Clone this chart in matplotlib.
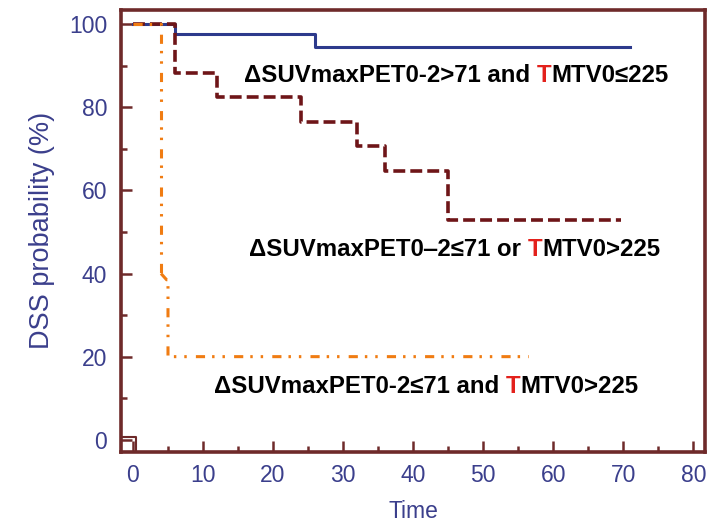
import matplotlib
matplotlib.use("Agg")
import matplotlib.pyplot as plt
from matplotlib.ticker import MultipleLocator

plt.rcParams['font.family'] = ['Liberation Sans', 'DejaVu Sans']

# Kaplan-Meier step curves (time, DSS probability %)
good_time = [0, 6, 26, 71]
good_surv = [100, 97.6, 94.6, 94.6]

mixed_time = [0, 6, 12, 24, 32, 36, 45, 69.7]
mixed_surv = [100, 88.2, 82.4, 76.5, 70.6, 64.7, 52.9, 52.9]

poor_time = [0, 4, 4.8, 5, 56.5]
poor_surv = [100, 40, 38.5, 20, 20]

label_good = ["\u0394SUVmaxPET0-2>71 and ", "T", "MTV0\u2264225"]
label_mixed = ["\u0394SUVmaxPET0\u20122\u226471 or ", "T", "MTV0>225"]
label_poor = ["\u0394SUVmaxPET0-2\u226471 and ", "T", "MTV0>225"]

x_ticks = [0, 10, 20, 30, 40, 50, 60, 70, 80]
y_ticks = [0, 20, 40, 60, 80, 100]

spine_col = "#6e2a2a"
tick_col = "#3b3f8c"
orange = "#f07c12"
orange_dash = (3, 2.3, 0.8, 2.6, 0.8, 3)

fig = plt.figure(figsize=(7.08, 5.26), dpi=100)
ax = fig.add_axes([0.171, 0.141, 0.825, 0.840])

ax.step(good_time, good_surv, where="post", color="#2d3a8c", lw=2.2)
ax.step(mixed_time, mixed_surv, where="post", color="#6e1518", lw=2.6,
        dashes=(3.3, 1.4))
ax.plot([poor_time[0], poor_time[1], poor_time[1]],
        [poor_surv[0], poor_surv[0], poor_surv[1]],
        color=orange, lw=2.2, dashes=orange_dash)
ax.plot([poor_time[1], poor_time[2], poor_time[3], poor_time[3], poor_time[4]],
        [poor_surv[1], poor_surv[2], poor_surv[2], poor_surv[3], poor_surv[4]],
        color=orange, lw=2.2, dashes=orange_dash)

# small censoring bracket at the origin
ax.plot([-1.7, 0.4, 0.4], [0.6, 0.6, -2.9], color=spine_col, lw=1.5)

ax.set_xlim(-1.7, 81.7)
ax.set_ylim(-2.9, 103.4)
ax.set_xticks(x_ticks)
ax.set_yticks(y_ticks)
ax.xaxis.set_minor_locator(MultipleLocator(5))
ax.yaxis.set_minor_locator(MultipleLocator(10))
ax.tick_params(which="both", direction="in", color=spine_col, width=1.8,
               top=False, right=False)
ax.tick_params(which="major", length=8, labelsize=16.5, labelcolor=tick_col)
ax.tick_params(which="minor", length=4)
ax.tick_params(axis="x", pad=9)
ax.tick_params(axis="y", pad=10)
for s in ax.spines.values():
    s.set_color(spine_col)
    s.set_linewidth(2.6)

ax.set_xlabel("Time", fontsize=16.5, color=tick_col, labelpad=9)
ax.set_ylabel("DSS probability (%)", fontsize=19.5, color=tick_col, labelpad=10)


def colored_label(x, y, parts):
    t = ax.text(x, y, parts[0], fontsize=17.3, fontweight="bold", color="black",
                ha="left", va="bottom")
    prev = t
    for part, col in zip(parts[1:], ["#e3211c", "black"]):
        prev = ax.annotate(part, xy=(1, 0), xycoords=prev, fontsize=17.3,
                           fontweight="bold", color=col, ha="left", va="bottom")


colored_label(15.9, 84.8, label_good)
colored_label(16.6, 43.1, label_mixed)
colored_label(11.6, 10.1, label_poor)

fig.savefig("out.png", dpi=100)
